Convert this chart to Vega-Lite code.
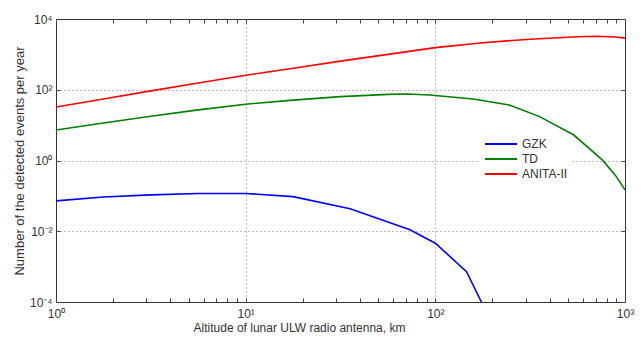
{
  "$schema": "https://vega.github.io/schema/vega-lite/v6.json",
  "width": 569,
  "height": 283,
  "autosize": {"type": "none"},
  "padding": {"left": 56, "top": 19, "right": 16, "bottom": 39},
  "config": {
    "font": "Liberation Sans",
    "view": {"stroke": "#333", "strokeWidth": 1},
    "axis": {"labelFontSize": 12, "labelColor": "#333", "titleFontSize": 12, "titleFontWeight": "normal", "titleColor": "#333", "domain": false, "tickColor": "#444"}
  },
  "data": {"values": [
    {"x": 1, "y": 0.072, "s": "GZK"},
    {"x": 1.778, "y": 0.093, "s": "GZK"},
    {"x": 3.162, "y": 0.107, "s": "GZK"},
    {"x": 5.623, "y": 0.117, "s": "GZK"},
    {"x": 10, "y": 0.117, "s": "GZK"},
    {"x": 17.78, "y": 0.095, "s": "GZK"},
    {"x": 35.5, "y": 0.043, "s": "GZK"},
    {"x": 73.5, "y": 0.011, "s": "GZK"},
    {"x": 100, "y": 0.0046, "s": "GZK"},
    {"x": 146, "y": 0.00072, "s": "GZK"},
    {"x": 175, "y": 0.0001, "s": "GZK"},
    {"x": 1, "y": 7.3, "s": "TD"},
    {"x": 1.778, "y": 11.5, "s": "TD"},
    {"x": 3.162, "y": 17.8, "s": "TD"},
    {"x": 5.623, "y": 27, "s": "TD"},
    {"x": 10, "y": 39, "s": "TD"},
    {"x": 17.78, "y": 51, "s": "TD"},
    {"x": 31.62, "y": 64, "s": "TD"},
    {"x": 56.2, "y": 74, "s": "TD"},
    {"x": 70.8, "y": 76, "s": "TD"},
    {"x": 93.3, "y": 71, "s": "TD"},
    {"x": 158.5, "y": 55, "s": "TD"},
    {"x": 245.5, "y": 37, "s": "TD"},
    {"x": 354.8, "y": 17.4, "s": "TD"},
    {"x": 537, "y": 5.25, "s": "TD"},
    {"x": 759, "y": 1.04, "s": "TD"},
    {"x": 891, "y": 0.38, "s": "TD"},
    {"x": 1000, "y": 0.148, "s": "TD"},
    {"x": 1, "y": 32.4, "s": "ANITA-II"},
    {"x": 1.778, "y": 55, "s": "ANITA-II"},
    {"x": 3.162, "y": 93, "s": "ANITA-II"},
    {"x": 5.623, "y": 155, "s": "ANITA-II"},
    {"x": 10, "y": 257, "s": "ANITA-II"},
    {"x": 17.78, "y": 407, "s": "ANITA-II"},
    {"x": 31.62, "y": 646, "s": "ANITA-II"},
    {"x": 56.23, "y": 1000, "s": "ANITA-II"},
    {"x": 100, "y": 1550, "s": "ANITA-II"},
    {"x": 177.8, "y": 2140, "s": "ANITA-II"},
    {"x": 316.2, "y": 2690, "s": "ANITA-II"},
    {"x": 562.3, "y": 3160, "s": "ANITA-II"},
    {"x": 707.9, "y": 3240, "s": "ANITA-II"},
    {"x": 891.3, "y": 3090, "s": "ANITA-II"},
    {"x": 1000, "y": 2880, "s": "ANITA-II"}
  ]},
  "layer": [
    {
      "mark": {"type": "line", "strokeWidth": 1.6, "clip": true},
      "encoding": {
        "x": {"field": "x", "type": "quantitative",
          "scale": {"type": "log", "domain": [1, 1000], "nice": false},
          "axis": {"orient": "bottom", "title": "Altitude of lunar ULW radio antenna, km",
            "values": [1,2,3,4,5,6,7,8,9,10,20,30,40,50,60,70,80,90,100,200,300,400,500,600,700,800,900,1000],
            "labelExpr": "datum.value==1?'10⁰':datum.value==10?'10¹':datum.value==100?'10²':datum.value==1000?'10³':''",
            "labelOverlap": false, "labelFlush": false, "labelPadding": 10,
            "tickSize": -4, "grid": true, "gridColor": "#777", "gridDash": [1, 3],
            "gridOpacity": {"condition": {"test": "datum.value==10||datum.value==100", "value": 1}, "value": 0},
            "titlePadding": 3, "titleX": 243, "titleFontSize": 12}},
        "y": {"field": "y", "type": "quantitative",
          "scale": {"type": "log", "domain": [0.0001, 10000], "nice": false},
          "axis": {"orient": "left", "title": "Number of the detected events per year",
            "values": [0.0001, 0.01, 1, 100, 10000],
            "labelExpr": "datum.value==0.0001?'10⁻⁴':datum.value==0.01?'10⁻²':datum.value==1?'10⁰':datum.value==100?'10²':datum.value==10000?'10⁴':''",
            "labelOverlap": false, "labelFlush": false, "labelPadding": 8,
            "tickSize": -4, "grid": true, "gridColor": "#777", "gridDash": [1, 3],
            "gridOpacity": {"condition": {"test": "datum.value==0.01||datum.value==1||datum.value==100", "value": 1}, "value": 0},
            "titlePadding": 3, "titleFontSize": 13}},
        "color": {"field": "s", "type": "nominal",
          "scale": {"domain": ["GZK", "TD", "ANITA-II"], "range": ["#0000ff", "#007f00", "#ff0000"]},
          "legend": {"orient": "none", "legendX": 424, "legendY": 116, "title": null,
            "symbolType": "M-1,0H7", "symbolSize": 64, "symbolStrokeWidth": 2,
            "labelFontSize": 12, "labelColor": "#333", "labelOffset": 27,
            "rowPadding": 3, "fillColor": "white", "padding": 3}}
      }
    },
    {
      "mark": {"type": "line", "opacity": 0},
      "encoding": {
        "x": {"field": "x", "type": "quantitative",
          "scale": {"type": "log", "domain": [1, 1000], "nice": false},
          "axis": {"orient": "top", "title": null, "labels": false, "grid": false,
            "values": [1,2,3,4,5,6,7,8,9,10,20,30,40,50,60,70,80,90,100,200,300,400,500,600,700,800,900,1000],
            "tickSize": -4}},
        "y": {"field": "y", "type": "quantitative",
          "scale": {"type": "log", "domain": [0.0001, 10000], "nice": false},
          "axis": {"orient": "right", "title": null, "labels": false, "grid": false,
            "values": [0.0001, 0.01, 1, 100, 10000], "tickSize": -4}},
        "detail": {"field": "s", "type": "nominal"}
      }
    }
  ],
  "resolve": {"axis": {"x": "independent", "y": "independent"}}
}
